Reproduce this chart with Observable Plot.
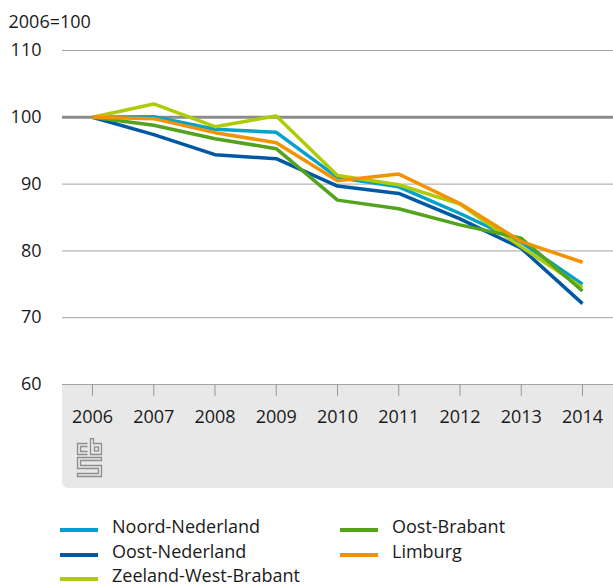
<!DOCTYPE html>
<html>
<head>
<meta charset="utf-8">
<script src="https://cdn.jsdelivr.net/npm/d3@7"></script>
<script src="https://cdn.jsdelivr.net/npm/@observablehq/plot@0.6"></script>
<style>
  html, body { margin: 0; padding: 0; background: #fff; }
  body { font-family: "Open Sans", sans-serif; color: #1a1a1a; width: 613px; overflow: hidden; }
  #wrap { position: relative; width: 613px; height: 500px; }
  #logo { position: absolute; left: 76px; top: 438px; }
  #legend { display: grid; grid-template-columns: 280px 240px; grid-template-rows: repeat(3, 24.5px);
            grid-auto-flow: column; margin-left: 60px; margin-top: 14px; font-size: 18px; line-height: 24.5px; }
  .item { display: flex; align-items: center; white-space: nowrap; }
  .sw { width: 38px; height: 4px; margin-right: 14px; flex: none; position: relative; top: 4px; }
</style>
</head>
<body>
<div id="wrap"></div>
<div id="legend"></div>
<script>
const years = [2006, 2007, 2008, 2009, 2010, 2011, 2012, 2013, 2014];
const seriesNames = ["Noord-Nederland", "Oost-Nederland", "Zeeland-West-Brabant", "Oost-Brabant", "Limburg"];
const seriesColors = ["#00a1cd", "#0058a3", "#afcb05", "#53a31d", "#f39200"];
const noordNederland   = [100, 100.1, 98.2, 97.75, 91.0, 89.6, 85.6, 81.3, 75.0];
const oostNederland    = [100, 97.4, 94.4, 93.8, 89.7, 88.6, 84.8, 80.4, 72.1];
const zeelandWestBrabant = [100, 102.0, 98.6, 100.2, 91.3, 89.9, 87.0, 80.6, 74.5];
const oostBrabant      = [100, 98.8, 96.8, 95.3, 87.6, 86.3, 83.9, 81.9, 74.0];
const limburg          = [100, 99.8, 97.7, 96.2, 90.5, 91.5, 87.1, 81.4, 78.3];
const yTicks = [60, 70, 80, 90, 100, 110];
const baseValue = 100;
const unitLabel = "2006=100";

const seriesValues = [noordNederland, oostNederland, zeelandWestBrabant, oostBrabant, limburg];
const data = seriesNames.flatMap((name, i) =>
  years.map((year, j) => ({ series: name, year, value: seriesValues[i][j] })));

const panel = (index, scales, values, dims) => {
  const x0 = dims.marginLeft, y0 = dims.height - dims.marginBottom;
  const x1 = dims.width, y1 = y0 + 104, r = 6;
  const p = d3.create("svg:path")
    .attr("d", `M${x0},${y0}H${x1}V${y1}H${x0 + r}A${r},${r} 0 0 1 ${x0},${y1 - r}Z`)
    .attr("fill", "#e8e8e8");
  return p.node();
};

const chart = Plot.plot({
  width: 613,
  height: 500,
  marginLeft: 62,
  marginRight: 0,
  marginTop: 50,
  marginBottom: 116,
  style: { fontFamily: "Open Sans, sans-serif", fontSize: "18px", color: "#1a1a1a", background: "transparent", overflow: "visible" },
  x: { domain: [2006, 2014], insetLeft: 30, insetRight: 31 },
  y: { domain: [60, 110] },
  color: { domain: seriesNames, range: seriesColors },
  marks: [
    panel,
    Plot.ruleY(yTicks.filter(d => d !== baseValue), { stroke: "#a3a3a3", strokeWidth: 1 }),
    Plot.ruleY([baseValue], { stroke: "#8c8c8c", strokeWidth: 3 }),
    Plot.axisY({ ticks: yTicks, tickSize: 0, tickPadding: 21, label: null, fontSize: 18 }),
    Plot.axisX({ ticks: years, tickFormat: d => String(d), tickSize: 12, tickPadding: 14, stroke: "#999", label: null, fontSize: 18 }),
    Plot.text([unitLabel], { frameAnchor: "top-left", lineAnchor: "middle", dx: -54, dy: -28, text: d => d, textAnchor: "start", fontSize: 18 }),
    Plot.line(data, { x: "year", y: "value", stroke: "series", z: "series", strokeWidth: 3.5,
                      strokeLinecap: "butt", strokeLinejoin: "miter" })
  ]
});
const wrap = document.getElementById("wrap");
wrap.appendChild(chart);

const logo = `<svg id="logo" width="27" height="40" viewBox="0 0 27 40" fill="none" stroke="#8d8d8d" stroke-width="1.3">
  <path d="M11.5,5.5 H1.5 V16.5 H11.5"/><path d="M11.5,8.5 H4.5 V13.5 H11.5"/>
  <path d="M14.5,0.5 V16.5 H25.5 V5.5 H17.5 V0.5 Z"/><rect x="18.5" y="9" width="4" height="4"/>
  <path d="M25.5,19.5 H1.5 V30.5 H22.5 V35.5 H1.5 V38.5 H25.5 V27.5 H4.5 V22.5 H25.5 Z"/>
</svg>`;
wrap.insertAdjacentHTML("beforeend", logo);

const legend = document.getElementById("legend");
const order = ["Noord-Nederland", "Oost-Nederland", "Zeeland-West-Brabant", "Oost-Brabant", "Limburg"];
order.forEach(name => {
  const c = seriesColors[seriesNames.indexOf(name)];
  legend.insertAdjacentHTML("beforeend", `<div class="item"><span class="sw" style="background:${c}"></span><span>${name}</span></div>`);
});
</script>
</body>
</html>
